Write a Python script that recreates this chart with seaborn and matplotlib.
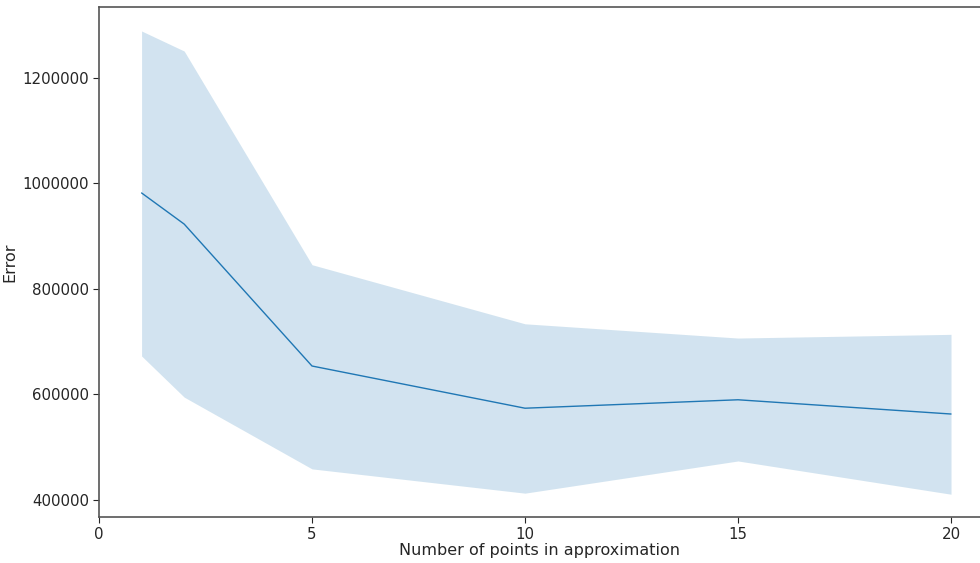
import seaborn as sns
import matplotlib.pyplot as plt
import pandas as pd

# points in approximation vs error (mean and band)
n_points = [1, 2, 5, 10, 15, 20]
err_mean = [982000, 923000, 654000, 574000, 590000, 563000]
err_low = [673000, 595000, 459000, 413000, 474000, 411000]
err_high = [1289000, 1251000, 846000, 734000, 707000, 714000]

df = pd.DataFrame({'n': n_points, 'err': err_mean, 'lo': err_low, 'hi': err_high})

sns.set_style('ticks')
plt.rcParams['font.family'] = ['DejaVu Sans']

fig = plt.figure(figsize=(9.8, 5.63), dpi=100)
ax = fig.add_axes([0.101, 0.0817, 0.899, 0.906])

sns.lineplot(data=df, x='n', y='err', color='#1f77b4', linewidth=1, ax=ax)
ax.fill_between(df['n'], df['lo'], df['hi'], color='#1f77b4', alpha=0.2, linewidth=0)

ax.set_xlim(0, 20.68)
ax.set_ylim(367800, 1334600)
ax.set_xticks([0, 5, 10, 15, 20])
ax.set_yticks([400000, 600000, 800000, 1000000, 1200000])
ax.set_yticklabels(['400000', '600000', '800000', '1000000', '1200000'])
ax.set_xlabel('Number of points in approximation', fontsize=11.5, color='#262626', labelpad=1)
ax.set_ylabel('Error', fontsize=11.5, color='#262626', labelpad=4)
ax.tick_params(labelsize=10.8, colors='#262626', length=4.5, pad=2.5)
for s in ['left', 'bottom', 'top']:
    ax.spines[s].set_color('#555555')
    ax.spines[s].set_linewidth(1.2)
ax.spines['right'].set_visible(False)

fig.savefig('out.png', dpi=100)
